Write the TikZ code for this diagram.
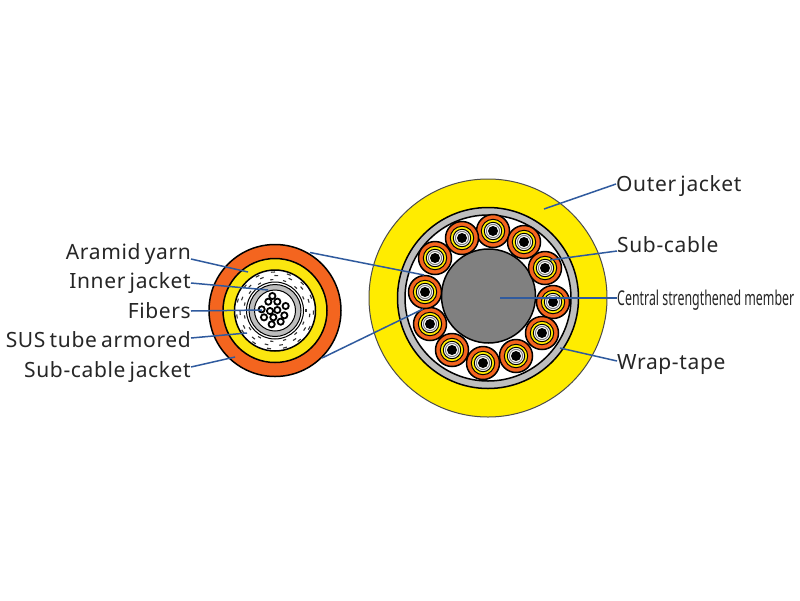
\documentclass[tikz,border=0pt]{standalone}
\usetikzlibrary{calc}
\usepackage{fontspec}
\setmainfont{Noto Sans}[LetterSpace=3.0,WordSpace=0.7]
\newfontfamily\condfont{Noto Sans}
\definecolor{jkorange}{HTML}{F4651F}
\definecolor{jkyellow}{HTML}{FFEC00}
\definecolor{smyellow}{HTML}{FBE60F}
\definecolor{jkgrey}{HTML}{BEBEBE}
\definecolor{coregrey}{HTML}{808080}
\definecolor{leadblue}{HTML}{2F5A9E}
\tikzset{
  ring/.style={draw=black,line width=1.5pt,fill=#1},
  thinring/.style={draw=black,line width=1pt,fill=#1},
  leader/.style={draw=leadblue,line width=1.5pt},
  lefttext/.style={anchor=base east,inner sep=0pt,font=\fontsize{21}{21}\selectfont,text=black!85},
  righttext/.style={anchor=base west,inner sep=0pt,font=\fontsize{21}{21}\selectfont,text=black!85},
  condtext/.style={anchor=base west,inner sep=0pt,text=black!85},
  tick/.style={draw=black!80,line width=1.1pt},
  fiber/.style={draw=black,line width=1.8pt,fill=white}
}
\begin{document}
\begin{tikzpicture}[x=1pt,y=-1pt]
\useasboundingbox (0,0) rectangle (800,600);
\fill[white] (0,0) rectangle (800,600);
% small sub-cable cross section
\coordinate (sc) at (275,310.5);
\fill[ring=jkorange] (sc) circle (66);
\fill[ring=smyellow] (sc) circle (52);
\fill[ring=white] (sc) circle (40.5);
\foreach \r/\o in {31/0,35/8,38.5/3}{
  \foreach \a in {0,24,...,336}{
    \draw[tick] ($(sc)+(\a+\o-3:\r)$) -- ($(sc)+(\a+\o+3:\r)$);
  }
}
\fill[thinring=white] (sc) circle (28.5);
\fill[thinring=jkgrey] (sc) circle (26);
\fill[thinring=white] (sc) circle (20.5);
\foreach \x/\y in {247/198,235/215,262/215,287/228,215/238,240/243,262/240,283/256,222/262,250/262,272/275,245/283}{
  \draw[fiber] ({190+\x/3},{230+\y/3}) circle (3.1);
}
% main cable
\coordinate (mc) at (488,298);
\fill[draw=black!70,line width=1pt,fill=jkyellow] (mc) circle (119);
\fill[ring=jkgrey] (mc) circle (90.5);
\fill[ring=white] (mc) circle (83);
\fill[ring=coregrey] (488.5,296) circle (47);
\foreach \x/\y in {493/231,524/242,545/268,553/302,542/333,516/356,483/363,452/350,430/324,425/292,435/258,462/238}{
  \fill[ring=jkorange] (\x,\y) circle (16.5);
  \fill[thinring=jkyellow] (\x,\y) circle (11.7);
  \fill[thinring=white] (\x,\y) circle (8.7);
  \draw[draw=black!50,line width=1pt] (\x,\y) circle (6.6);
  \fill[black] (\x,\y) circle (5);
}
% labels
\node[lefttext] (aramid) at (191,259) {Aramid yarn};
\node[lefttext] (inner) at (191,288) {Inner jacket};
\node[lefttext] (fibers) at (191,318) {Fibers};
\node[lefttext] (sus) at (191,347) {SUS tube armored};
\node[lefttext] (subjacket) at (191,377) {Sub-cable jacket};
\node[righttext] (outer) at (616,191) {Outer jacket};
\node[righttext] (subcable) at (617,252) {Sub-cable};
\node[condtext] (central) at (617,305) {\resizebox{177pt}{15.5pt}{\condfont\fontsize{20}{20}\selectfont Central strengthened member}};
\node[righttext] (wrap) at (617,369) {Wrap-tape};
% leader targets
\coordinate (taramid) at (248,272);
\coordinate (tinner) at (268,290);
\coordinate (tfibers) at (262,310);
\coordinate (tsus) at (247,333);
\coordinate (tsubjacket) at (235,357);
\coordinate (touter) at (544,209);
\coordinate (tsubcable) at (550,260);
\coordinate (tcentral) at (500,298);
\coordinate (twrap) at (560,348);
\coordinate (zu1) at (310,252.5);
\coordinate (zu2) at (424,275);
\coordinate (zl1) at (322,358);
\coordinate (zl2) at (423,309);
\draw[leader] (aramid.east |- 0,259) -- (taramid);
\draw[leader] (inner.east |- 0,283) -- (tinner);
\draw[leader] (fibers.east |- 0,311) -- (tfibers);
\draw[leader] (sus.east |- 0,338) -- (tsus);
\draw[leader] (subjacket.east |- 0,367) -- (tsubjacket);
\draw[leader] (outer.west |- 0,184) -- (touter);
\draw[leader] (subcable.west |- 0,251) -- (tsubcable);
\draw[leader] (central.west |- 0,298) -- (tcentral);
\draw[leader] (wrap.west |- 0,361) -- (twrap);
\draw[leader] (zu1) -- (zu2);
\draw[leader] (zl1) -- (zl2);
\end{tikzpicture}
\end{document}
